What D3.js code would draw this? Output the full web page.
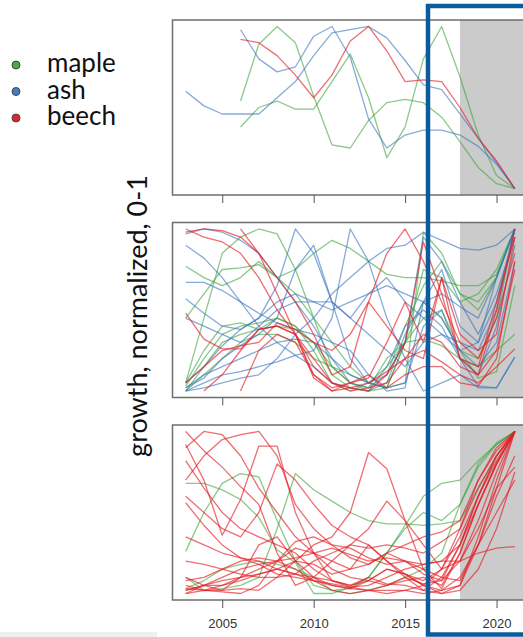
<!DOCTYPE html>
<meta charset="utf-8">
<style>
    body { margin: 0; background: #fff; }
    .frame { fill: none; stroke: #6e6e6e; stroke-width: 1.5px; }
    .shade { fill: #cbcbcb; }
    .series path { fill: none; stroke-width: 1.3px; stroke-linejoin: round; }
    .tick line { stroke: #555; }
    .tick text { font-family: Arial, "Liberation Sans", sans-serif; font-size: 13px; fill: #333; }
    .legend text, .ylabel { font-family: Lato, "Open Sans", sans-serif; fill: #111; }
</style>
<svg width="523" height="637"></svg>
<script src="https://d3js.org/d3.v7.min.js"></script>
<script>

    var svg = d3.select("svg");

    var years = [2003, 2004, 2005, 2006, 2007, 2008, 2009, 2010, 2011, 2012,
                 2013, 2014, 2015, 2016, 2017, 2018, 2019, 2020, 2021];
    var tickYears = [2005, 2010, 2015, 2020];
    var species = ["maple", "ash", "beech"];
    var colors = { maple: "rgba(60,165,60,0.6)", ash: "rgba(55,115,190,0.6)", beech: "rgba(228,30,38,0.65)" };
    var dotColors = { maple: "#43ad45", ash: "#3b7fc4", beech: "#e3262a" };

    // values 2003..2021, null = no ring yet
    var topMaple = [
        [null, null, null, 0.54, 0.89, 1.0, 0.90, 0.57, 0.27, 0.25, 0.42, 0.53, 0.55, 0.53, 0.44, 0.29, 0.13, 0.03, 0],
        [null, null, null, 0.38, 0.50, 0.54, 0.49, 0.49, 0.66, 0.83, 0.56, 0.19, 0.38, 0.80, 1.0, 0.69, 0.33, 0.08, 0]
    ];
    var topAsh = [
        [0.60, 0.51, 0.46, 0.46, 0.46, 0.56, 0.66, 0.82, 0.96, 0.98, 1.0, 0.93, 0.79, 0.64, 0.61, 0.46, 0.31, 0.16, 0],
        [null, null, null, 0.98, 0.80, 0.72, 0.75, 0.94, 1.0, 0.81, 0.43, 0.25, 0.33, 0.36, 0.36, 0.33, 0.26, 0.15, 0]
    ];
    var topBeech = [
        [null, null, null, 0.92, 0.90, 0.82, 0.70, 0.56, 0.70, 0.91, 1.0, 0.85, 0.66, 0.67, 0.66, 0.50, 0.31, 0.17, 0]
    ];

    var midMaple = [
        [0.45, 0.60, 0.75, 0.76, 0.78, 0.70, 0.60, 0.45, 0.30, 0.15, 0.05, 0.02, 0.30, 0.75, 0.70, 0.55, 0.60, 0.75, 1.0],
        [0.05, 0.45, 0.85, 0.95, 1.0, 0.97, 0.75, 0.45, 0.15, 0.05, 0.0, 0.02, 0.05, 0.98, 0.85, 0.60, 0.50, 0.70, 1.0],
        [0.77, 0.70, 0.65, 0.70, 0.80, 0.70, 0.75, 0.85, 0.93, 0.88, 0.80, 0.72, 0.70, 0.70, 0.68, 0.65, 0.65, 0.72, 1.0],
        [0.03, 0.20, 0.35, 0.40, 0.42, 0.45, 0.40, 0.30, 0.15, 0.05, 0.02, 0.20, 0.30, 0.32, 0.28, 0.20, 0.15, 0.25, 0.35],
        [0.0, 0.15, 0.30, 0.35, 0.38, 0.40, 0.38, 0.30, 0.10, 0.02, 0.0, 0.15, 0.30, 0.55, 0.45, 0.25, 0.20, 0.45, 1.0],
        [0.05, 0.25, 0.40, 0.42, 0.38, 0.45, 0.40, 0.25, 0.05, 0.0, 0.05, 0.02, 0.30, 0.45, 0.50, 0.25, 0.08, 0.12, 0.65],
        [0.0, 0.10, 0.20, 0.30, 0.35, 0.35, 0.30, 0.20, 0.15, 0.10, 0.05, 0.10, 0.40, 0.65, 0.80, 0.60, 0.55, 0.70, 1.0]
    ];
    var midAsh = [
        [0.97, 1.0, 0.98, 0.93, 0.85, 0.70, 0.55, 0.40, 0.20, 0.05, 0.02, 0.10, 0.30, 0.95, 0.80, 0.55, 0.35, 0.60, 0.95],
        [0.90, 0.82, 0.70, 0.55, 0.40, 0.30, 0.22, 0.15, 0.05, 0.02, 0.0, 0.05, 0.35, 0.55, 0.75, 0.40, 0.30, 0.55, 1.0],
        [0.67, 0.67, 0.62, 0.55, 0.48, 0.42, 0.38, 0.35, 0.30, 0.25, 0.10, 0.0, 0.02, 0.55, 0.60, 0.52, 0.45, 0.70, 1.0],
        [0.57, 0.48, 0.40, 0.38, 0.45, 0.65, 1.0, 0.85, 0.55, 0.20, 0.05, 0.02, 0.05, 0.40, 0.50, 0.20, 0.10, 0.40, 0.90],
        [0.02, 0.08, 0.20, 0.28, 0.35, 0.45, 0.75, 0.90, 0.55, 0.45, 0.60, 0.70, 0.55, 0.45, 0.35, 0.30, 0.25, 0.50, 1.0],
        [0.0, 0.05, 0.10, 0.12, 0.15, 0.18, 0.22, 0.25, 0.45, 1.0, 0.80, 0.45, 0.20, 0.0, 0.05, 0.10, 0.02, 0.02, 0.21],
        [0.0, 0.02, 0.05, 0.08, 0.10, 0.20, 0.35, 0.45, 0.60, 0.70, 0.80, 0.88, 0.90, 0.98, 0.93, 0.88, 0.87, 0.90, 1.0],
        [0.05, 0.15, 0.28, 0.38, 0.45, 0.55, 0.60, 0.55, 0.50, 0.55, 0.60, 0.65, 0.60, 0.55, 0.45, 0.25, 0.30, 0.70, 1.0],
        [0.45, 0.40, 0.35, 0.30, 0.40, 0.50, 0.55, 0.55, 0.55, 0.45, 0.35, 0.25, 0.15, 0.30, 0.35, 0.25, 0.15, 0.30, 0.80],
        [0.02, 0.10, 0.15, 0.20, 0.25, 0.30, 0.32, 0.30, 0.20, 0.10, 0.05, 0.15, 0.40, 0.50, 0.40, 0.20, 0.03, 0.02, 0.21]
    ];
    var midBeech = [
        [1.0, 0.95, 0.92, 0.85, 0.70, 0.50, 0.35, 0.15, 0.05, 0.02, 0.0, 0.10, 0.30, 0.92, 0.60, 0.20, 0.10, 0.50, 1.0],
        [0.98, 1.0, 0.99, 0.95, 0.85, 0.70, 0.55, 0.35, 0.10, 0.15, 0.55, 0.85, 1.0, 0.80, 0.55, 0.30, 0.20, 0.45, 0.85],
        [0.48, 0.32, 0.26, 0.26, 0.38, 0.40, 0.35, 0.20, 0.05, 0.0, 0.02, 0.05, 0.20, 0.35, 0.30, 0.15, 0.10, 0.25, 0.75],
        [null, 0.0, 0.10, 0.25, 0.38, 0.40, 0.35, 0.08, 0.0, 0.02, 0.05, 0.12, 0.20, 0.25, 0.18, 0.10, 0.05, 0.15, 0.26],
        [null, null, null, 0.0, 0.25, 0.35, 0.30, 0.10, 0.02, 0.05, 0.10, 0.02, 0.10, 0.15, 0.15, 0.05, 0.03, 0.20, 0.80],
        [null, null, null, 1.0, 0.85, 0.60, 0.35, 0.10, 0.0, 0.05, 0.08, 0.30, 0.55, 0.30, 0.70, 0.20, 0.15, 0.55, 0.95],
        [0.05, 0.15, 0.25, 0.28, 0.30, 0.42, 0.38, 0.30, 0.25, 0.35, 0.55, 0.40, 0.25, 0.20, 0.70, 0.35, 0.25, 0.35, 0.95]
    ];

    var lowMaple = [
        [0.68, 0.68, 0.64, 0.58, 0.47, 0.27, 0.19, 0.0, 0.0, 0.04, 0.10, 0.25, 0.42, 0.60, 0.68, 0.70, 0.82, 0.92, 1.0],
        [0.26, 0.50, 0.68, 0.74, 0.72, 0.45, 0.20, 0.05, 0.02, 0.0, 0.02, 0.05, 0.10, 0.15, 0.25, 0.55, 0.80, 0.93, 1.0],
        [0.10, 0.02, 0.03, 0.05, 0.10, 0.40, 0.74, 0.64, 0.57, 0.50, 0.45, 0.43, 0.43, 0.42, 0.43, 0.45, 0.65, 0.85, 1.0],
        [0.03, 0.08, 0.15, 0.18, 0.20, 0.18, 0.15, 0.10, 0.02, 0.03, 0.10, 0.25, 0.40, 0.50, 0.45, 0.55, 0.78, 0.92, 1.0]
    ];
    var lowBeech = [
        [1.0, 0.88, 0.78, 0.66, 0.55, 0.25, 0.05, 0.10, 0.08, 0.05, 0.10, 0.06, 0.05, 0.02, 0.10, 0.30, 0.60, 0.82, 1.0],
        [0.90, 1.0, 0.98, 0.85, 0.65, 0.50, 0.35, 0.25, 0.15, 0.10, 0.08, 0.15, 0.12, 0.05, 0.15, 0.40, 0.70, 0.90, 1.0],
        [0.70, 0.85, 0.95, 0.98, 1.0, 0.85, 0.55, 0.40, 0.30, 0.22, 0.18, 0.25, 0.20, 0.12, 0.08, 0.30, 0.60, 0.85, 1.0],
        [0.10, 0.05, 0.02, 0.03, 0.02, 0.10, 0.20, 0.30, 0.35, 0.50, 0.87, 0.77, 0.45, 0.15, 0.03, 0.25, 0.55, 0.80, 1.0],
        [0.92, 0.70, 0.36, 0.58, 0.91, 0.91, 0.50, 0.25, 0.08, 0.04, 0.02, 0.05, 0.08, 0.10, 0.05, 0.25, 0.55, 0.80, 1.0],
        [0.60, 0.50, 0.40, 0.35, 0.50, 0.80, 0.70, 0.55, 0.42, 0.35, 0.30, 0.20, 0.10, 0.06, 0.08, 0.20, 0.40, 0.65, 0.78],
        [0.56, 0.42, 0.30, 0.22, 0.18, 0.12, 0.10, 0.08, 0.05, 0.03, 0.02, 0.02, 0.02, 0.0, 0.02, 0.10, 0.30, 0.50, 0.70],
        [0.35, 0.30, 0.25, 0.22, 0.20, 0.15, 0.12, 0.08, 0.06, 0.04, 0.05, 0.10, 0.15, 0.18, 0.20, 0.20, 0.25, 0.28, 0.29],
        [0.20, 0.18, 0.15, 0.12, 0.10, 0.10, 0.12, 0.20, 0.25, 0.30, 0.28, 0.30, 0.28, 0.25, 0.32, 0.40, 0.65, 0.85, 1.0],
        [0.02, 0.05, 0.10, 0.15, 0.18, 0.20, 0.22, 0.25, 0.28, 0.24, 0.20, 0.22, 0.20, 0.18, 0.20, 0.30, 0.55, 0.80, 1.0],
        [0.05, 0.02, 0.02, 0.10, 0.30, 0.35, 0.20, 0.10, 0.05, 0.03, 0.08, 0.15, 0.12, 0.05, 0.02, 0.05, 0.30, 0.60, 0.85],
        [0.0, 0.05, 0.08, 0.10, 0.12, 0.15, 0.20, 0.18, 0.12, 0.15, 0.30, 0.20, 0.12, 0.08, 0.15, 0.35, 0.60, 0.85, 1.0],
        [0.03, 0.02, 0.05, 0.10, 0.15, 0.20, 0.28, 0.25, 0.20, 0.15, 0.18, 0.25, 0.30, 0.35, 0.38, 0.45, 0.70, 0.88, 1.0],
        [0.08, 0.10, 0.15, 0.20, 0.22, 0.20, 0.15, 0.08, 0.02, 0.0, 0.02, 0.0, 0.02, 0.05, 0.0, 0.02, 0.15, 0.40, 0.75],
        [0.0, 0.02, 0.01, 0.0, 0.05, 0.20, 0.32, 0.35, 0.30, 0.28, 0.22, 0.18, 0.20, 0.15, 0.10, 0.08, 0.30, 0.65, 1.0],
        [0.82, 0.65, 0.50, 0.40, 0.35, 0.30, 0.25, 0.15, 0.08, 0.05, 0.08, 0.05, 0.10, 0.02, 0.0, 0.05, 0.35, 0.70, 1.0],
        [0.02, 0.05, 0.05, 0.08, 0.12, 0.15, 0.12, 0.10, 0.20, 0.30, 0.40, 0.57, 0.45, 0.30, 0.15, 0.20, 0.45, 0.75, 1.0]
    ];

    var panels = [
        { top: 20, groups: [["maple", topMaple], ["ash", topAsh], ["beech", topBeech]] },
        { top: 222.5, groups: [["maple", midMaple], ["ash", midAsh], ["beech", midBeech]] },
        { top: 425, groups: [["maple", lowMaple], ["beech", lowBeech]], labels: true }
    ];
    var panelHeight = 175;

    var x = d3.scaleLinear().domain([2002.28, 2021.72]).range([172.5, 528]);

    panels.forEach(function(p) {
        var y = d3.scaleLinear().domain([-0.04, 1.04]).range([p.top + panelHeight, p.top]);
        var g = svg.append("g");

        g.append("rect")
                .attr("class", "shade")
                .attr("x", x(2018))
                .attr("y", p.top)
                .attr("width", x(2021.72) - x(2018))
                .attr("height", panelHeight);

        var line = d3.line()
                .defined(function(d) { return d != null; })
                .x(function(d, i) { return x(years[i]); })
                .y(function(d) { return y(d); });

        p.groups.forEach(function(grp) {
            g.append("g")
                    .attr("class", "series")
                    .selectAll("path")
                    .data(grp[1])
                    .enter().append("path")
                    .attr("stroke", colors[grp[0]])
                    .attr("d", line);
        });

        g.append("rect")
                .attr("class", "frame")
                .attr("x", x(2002.28))
                .attr("y", p.top)
                .attr("width", x(2021.72) - x(2002.28))
                .attr("height", panelHeight);

        var axis = d3.axisBottom(x)
                .tickValues(tickYears)
                .tickSize(8)
                .tickPadding(11)
                .tickFormat(p.labels ? d3.format("d") : function() { return ""; });

        g.append("g")
                .attr("transform", "translate(0," + (p.top + panelHeight) + ")")
                .call(axis)
                .call(function(a) { a.select(".domain").remove(); });
    });

    var legend = svg.append("g").attr("class", "legend")
            .selectAll("g")
            .data(species)
            .enter().append("g")
            .attr("transform", function(d, i) { return "translate(0," + (65 + i * 26.5) + ")"; });

    legend.append("circle")
            .attr("cx", 16)
            .attr("r", 4)
            .attr("fill", function(d) { return dotColors[d]; })
            .attr("stroke", "#444")
            .attr("stroke-width", 1);

    legend.append("text")
            .attr("x", 47)
            .attr("y", 7)
            .attr("font-size", 26)
            .text(function(d) { return d; });

    svg.append("text")
            .attr("class", "ylabel")
            .attr("transform", "translate(147,316) rotate(-90)")
            .attr("text-anchor", "middle")
            .attr("font-size", 27)
            .text("growth, normalized, 0-1");

    // highlight box drawn over the chart
    svg.append("rect")
            .attr("x", 428)
            .attr("y", 6)
            .attr("width", 100)
            .attr("height", 628.5)
            .attr("fill", "none")
            .attr("stroke", "#0c5c9c")
            .attr("stroke-width", 4.5);

    svg.append("rect")
            .attr("x", 0)
            .attr("y", 632)
            .attr("width", 157)
            .attr("height", 5)
            .attr("fill", "#efefef");

</script>
